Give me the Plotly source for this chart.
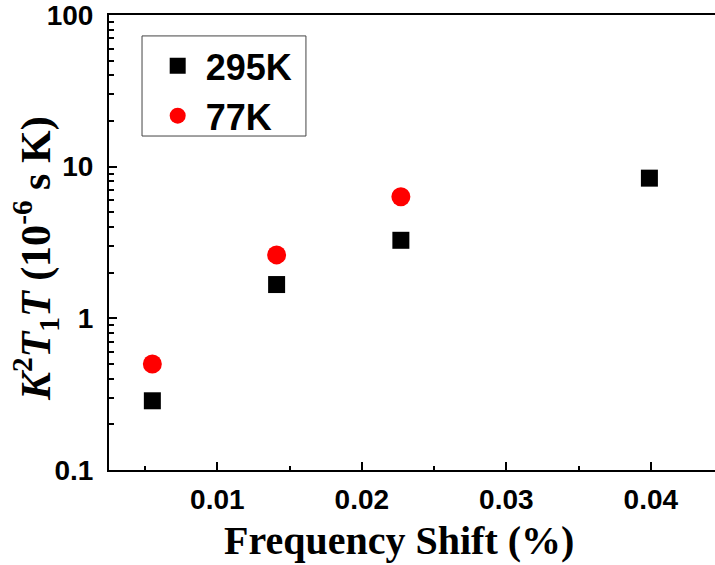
import plotly.graph_objects as go

# Data
x_295 = [0.0055, 0.0141, 0.0227, 0.0399]
y_295 = [0.286, 1.67, 3.27, 8.4]
x_77 = [0.0055, 0.0141, 0.0227]
y_77 = [0.50, 2.62, 6.34]

y_tickvals = [0.1, 1, 10, 100]
y_ticktext = ["0.1", "1", "10", "100"]
x_tickvals = [0.01, 0.02, 0.03, 0.04]
x_ticktext = ["0.01", "0.02", "0.03", "0.04"]

x_title = "<b>Frequency Shift (%)</b>"
y_title = "<b><i>K</i><sup>2</sup><i>T</i><sub>1</sub><i>T</i> (10<sup>-6</sup> s K)</b>"

fig = go.Figure()
fig.add_trace(go.Scatter(x=x_295, y=y_295, mode="markers", name="<b>295K</b>",
                         marker=dict(symbol="square", size=17, color="black",
                                     line=dict(width=0))))
fig.add_trace(go.Scatter(x=x_77, y=y_77, mode="markers", name="<b>77K</b>",
                         marker=dict(symbol="circle", size=19, color="#ff0000",
                                     line=dict(width=0))))

serif = "Liberation Serif, Times New Roman"
sans = "Liberation Sans, Arial"

fig.update_layout(
    width=715, height=565,
    margin=dict(l=109, r=0, t=15, b=95),
    plot_bgcolor="white", paper_bgcolor="white",
    showlegend=True,
    legend=dict(x=0.0556, y=0.954, xanchor="left", yanchor="top",
                borderwidth=0, bgcolor="rgba(0,0,0,0)",
                font=dict(family=sans, size=36, color="black", weight="bold"),
                itemwidth=46, indentation=7, tracegroupgap=0),
    shapes=[
        dict(type="rect", xref="paper", yref="paper",
             x0=0.0545, x1=0.325, y0=0.734, y1=0.954,
             line=dict(color="#444", width=1), fillcolor="rgba(0,0,0,0)", layer="below"),
    ],
    xaxis=dict(
        range=[0.0025, 0.04444],
        tickvals=x_tickvals, ticktext=["<b>%s</b>" % t for t in x_ticktext],
        ticks="inside", ticklen=8, tickwidth=2, tickcolor="black",
        minor=dict(ticks="inside", ticklen=4, tickwidth=2, tickcolor="black", dtick=0.005, tick0=0),
        showline=True, linewidth=2, linecolor="black", mirror=True,
        showgrid=False, zeroline=False,
        tickfont=dict(family=sans, size=28, color="black", weight="bold"),
        ticklabelstandoff=3, ticklabeloverflow="allow",
    ),
    yaxis=dict(
        type="log", range=[-1, 2],
        tickvals=y_tickvals, ticktext=["<b>%s</b>" % t for t in y_ticktext],
        ticks="inside", ticklen=8, tickwidth=2, tickcolor="black",
        minor=dict(ticks="inside", ticklen=5, tickwidth=2, tickcolor="black", dtick="D1"),
        showline=True, linewidth=2, linecolor="black", mirror=False,
        showgrid=False, zeroline=False,
        tickfont=dict(family=sans, size=28, color="black", weight="bold"),
        ticklabelstandoff=8, ticklabeloverflow="allow",
    ),
    annotations=[
        dict(text=x_title, xref="paper", yref="paper", x=0.4785, y=-0.154,
             xanchor="center", yanchor="middle", showarrow=False,
             font=dict(family=serif, size=40, color="black")),
        dict(text=y_title, xref="paper", yref="paper", x=-0.121, y=0.465,
             xanchor="center", yanchor="middle", showarrow=False, textangle=-90,
             font=dict(family=serif, size=42, color="black")),
    ],
)

fig.write_html("out.html")
